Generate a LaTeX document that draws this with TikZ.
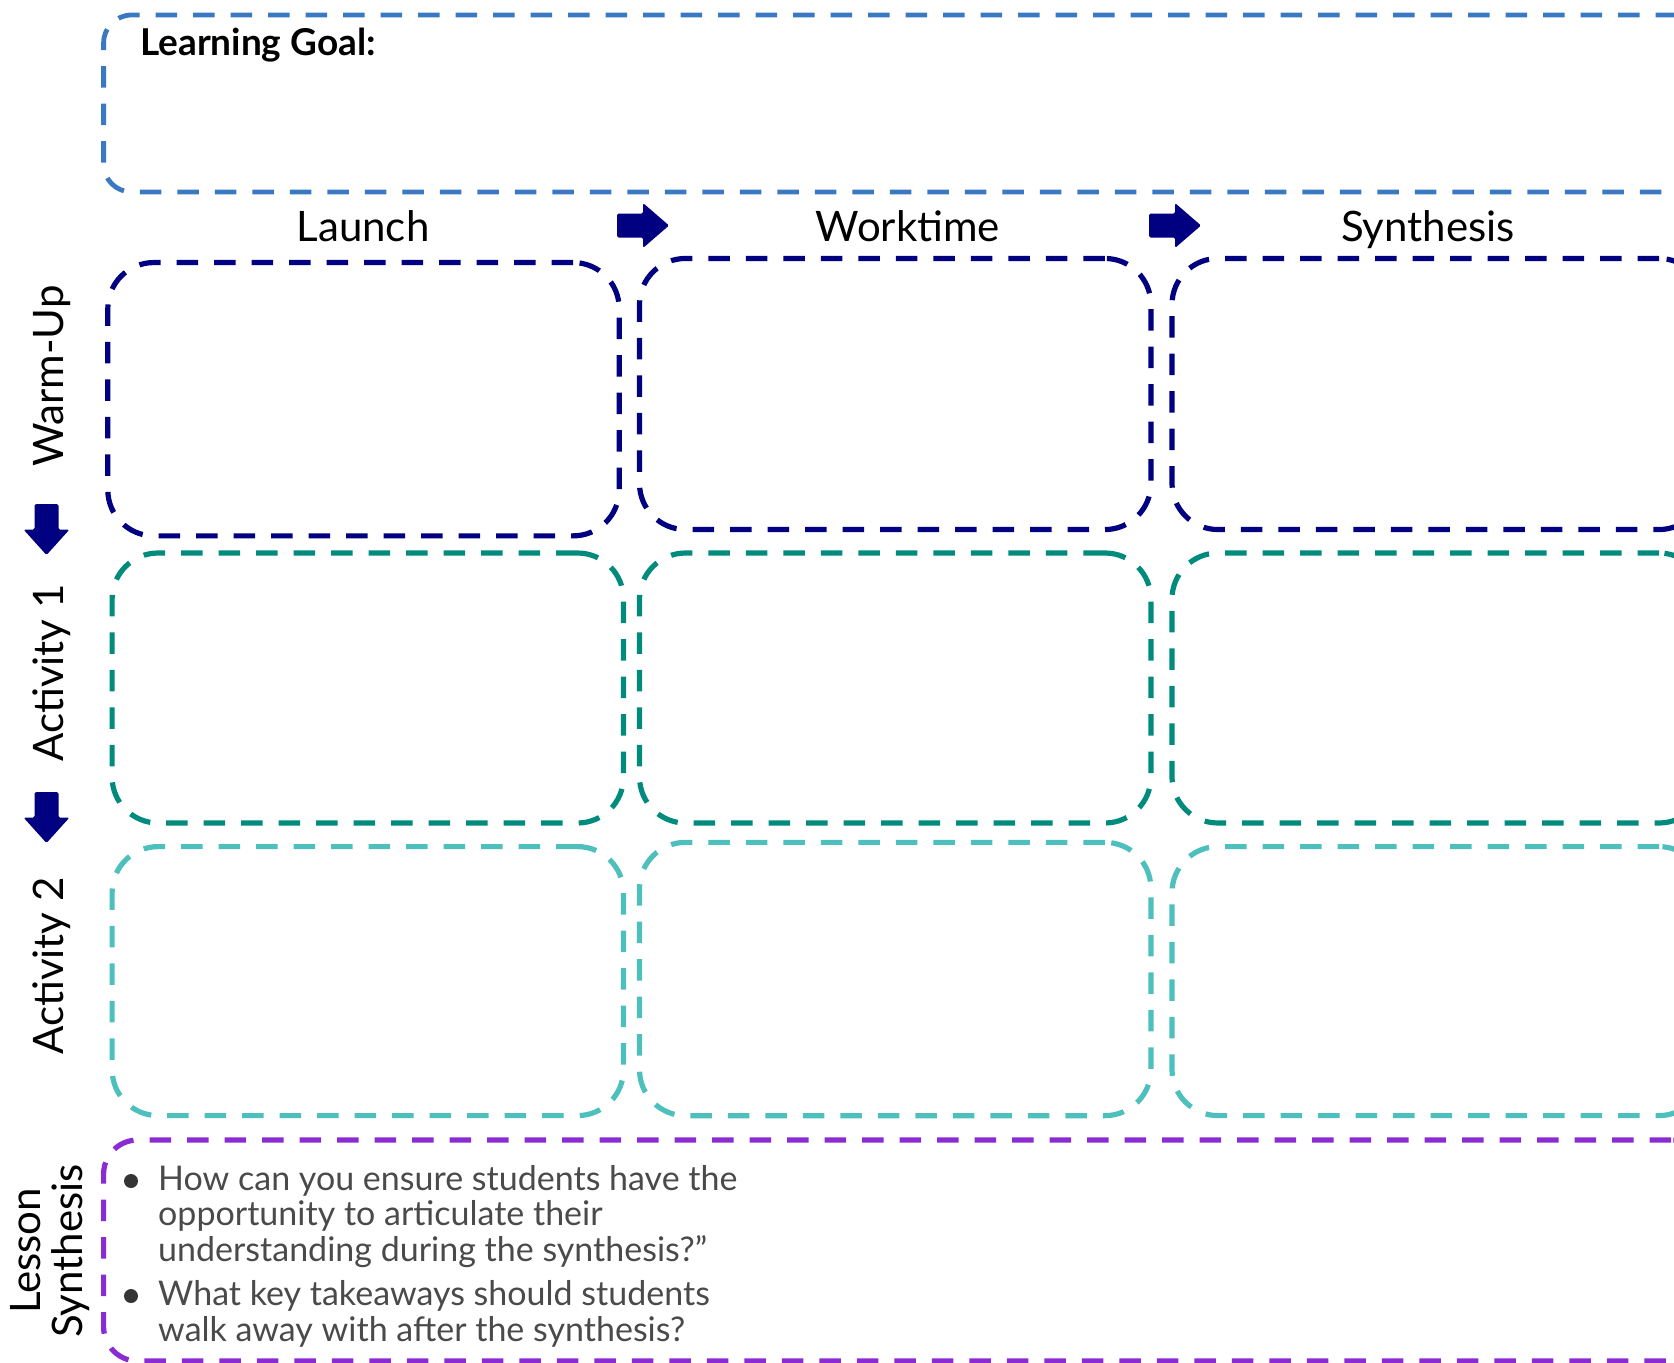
\documentclass[tikz,border=0pt]{standalone}
\usepackage{fontspec}
\setmainfont{Lato}
\definecolor{lgblue}{HTML}{3B78C2}
\definecolor{navy}{HTML}{000080}
\definecolor{teal2}{HTML}{008B7D}
\definecolor{lteal}{HTML}{4DC0BE}
\definecolor{purp}{HTML}{8A2BD3}
\definecolor{bodytext}{HTML}{4A4A4A}
\tikzset{
  cell/.style={rectangle, draw, rounded corners=46pt, line width=5.2pt,
    dash pattern=on 21.5pt off 16pt, inner sep=0pt, outer sep=0pt},
  header/.style={font=\fontsize{42}{48}\selectfont, text=black, inner sep=0pt, anchor=base},
  rowlabel/.style={font=\fontsize{42}{41.6}\selectfont, text=black, inner sep=0pt, rotate=90, align=center, anchor=base},
  bodytxt/.style={font=\fontsize{34}{35.2}\selectfont, text=bodytext, inner sep=0pt, align=left, anchor=base west},
  bulletdot/.style={circle, fill=bodytext!70!black, inner sep=0pt, minimum size=14pt},
  fatarrow/.style={fill=navy, rounded corners=1.5pt}
}
\begin{document}
\begin{tikzpicture}[x=1pt,y=-1pt]
\useasboundingbox (0,0) rectangle (1674,1363);

% Learning goal box
\node[cell, draw=lgblue, rounded corners=28pt, line width=4.8pt,
  minimum width=1601.4pt, minimum height=177pt] (lg) at (904.3,103.5) {};
\node[font=\bfseries\fontsize{37}{40}\selectfont, anchor=base west, inner sep=0pt] (lgt) at (140,55.5) {Learning Goal:};

% headers
\node[header] (hl) at (363,241) {Launch};
\node[header] (hw) at (908,241) {Worktime};
\node[header] (hs) at (1428,241) {Synthesis};

% right arrows
\fill[fatarrow] (617,213.5) -- (643,213.5) -- (643,203) -- (669,225.5) -- (643,248) -- (643,237.5) -- (617,237.5) -- cycle;
\fill[fatarrow] (1149,213.5) -- (1175,213.5) -- (1175,203) -- (1201,225.5) -- (1175,248) -- (1175,237.5) -- (1149,237.5) -- cycle;

% row 1
\node[cell, draw=navy, minimum width=511.4pt, minimum height=273.3pt] (w1) at (363.5,399.2) {};
\node[cell, draw=navy, minimum width=511.4pt, minimum height=271.1pt] (w2) at (895.2,394) {};
\node[cell, draw=navy, minimum width=533pt, minimum height=271.1pt] (w3) at (1438.5,394) {};
% row 2
\node[cell, draw=teal2, minimum width=511.4pt, minimum height=270pt] (a1) at (367.8,688) {};
\node[cell, draw=teal2, minimum width=511.4pt, minimum height=270pt] (a2) at (895.2,688) {};
\node[cell, draw=teal2, minimum width=533pt, minimum height=270pt] (a3) at (1438.5,688) {};
% row 3
\node[cell, draw=lteal, minimum width=511.4pt, minimum height=269pt] (b1) at (367.8,981.1) {};
\node[cell, draw=lteal, minimum width=511.4pt, minimum height=273.3pt] (b2) at (895.2,979) {};
\node[cell, draw=lteal, minimum width=533pt, minimum height=269pt] (b3) at (1438.5,981.1) {};

% lesson synthesis box
\node[cell, draw=purp, rounded corners=34pt, minimum width=1601.4pt, minimum height=221pt] (ls) at (904.3,1250.5) {};

% row labels
\node[rowlabel] (rw) at (63,376) {Warm-Up};
\node[rowlabel] (ra1) at (63,673) {Activity 1};
\node[rowlabel] (ra2) at (63,966) {Activity 2};
\node[rowlabel] (rls) at (82,1251) {Lesson\\Synthesis};

% down arrows
\fill[fatarrow] (34.5,504) -- (34.5,529.5) -- (23.5,529.5) -- (46.5,555) -- (69.5,529.5) -- (58.5,529.5) -- (58.5,504) -- cycle;
\fill[fatarrow] (34.5,792) -- (34.5,817.5) -- (23.5,817.5) -- (46.5,843) -- (69.5,817.5) -- (58.5,817.5) -- (58.5,792) -- cycle;

% bullets
\node[bulletdot] (d1) at (131,1181) {};
\node[bodytxt] (t1) at (158,1261) {How can you ensure students have the\\opportunity to articulate their\\understanding during the synthesis?"};
\node[bulletdot] (d2) at (131,1296) {};
\node[bodytxt] (t2) at (158,1341) {What key takeaways should students\\walk away with after the synthesis?};
\end{tikzpicture}
\end{document}
